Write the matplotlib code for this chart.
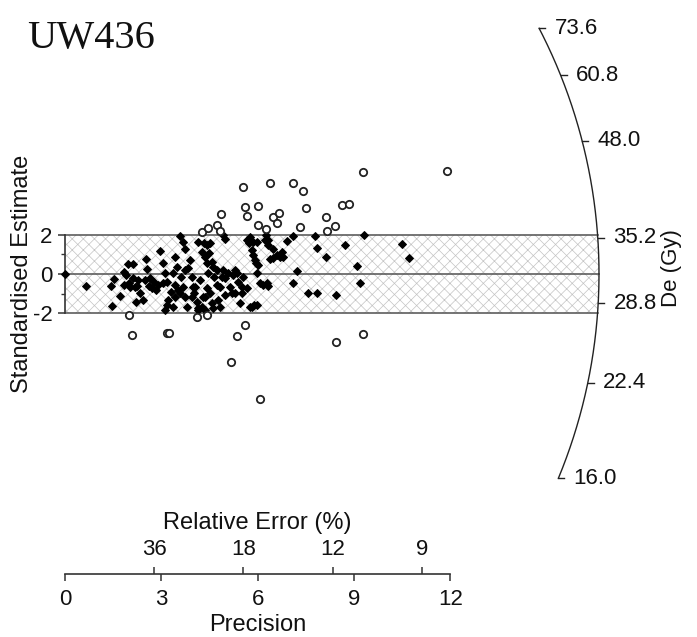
import numpy as np
import matplotlib.pyplot as plt

plt.rcParams['font.family'] = ['Liberation Sans', 'DejaVu Sans']
plt.rcParams['axes.unicode_minus'] = False
plt.rcParams['hatch.linewidth'] = 0.5

# points inside the +-2 band (filled) : precision, standardised estimate
prec_in = [0.00, 0.65, 1.43, 1.53, 1.45, 1.71, 1.84, 1.90, 1.97, 2.13,
           2.02, 2.13, 2.25, 2.21, 2.34, 2.52, 2.54, 2.61, 2.65, 2.77,
           2.83, 2.44, 2.96, 3.06, 3.12, 3.17, 3.12, 3.22, 3.29, 3.43,
           3.37, 3.43, 3.48, 3.58, 3.69, 3.74, 3.60, 3.69, 3.74, 3.84,
           3.89, 3.79, 3.95, 4.00, 4.02, 4.10, 4.15, 4.21, 4.26, 4.31,
           4.33, 4.41, 4.52, 4.36, 4.41, 4.50, 4.57, 4.62, 4.43, 4.46,
           4.52, 4.57, 4.62, 4.64, 4.73, 4.78, 4.83, 4.93, 4.98, 4.93,
           4.98, 5.09, 5.14, 5.19, 5.24, 5.35, 5.40, 5.45, 5.50, 5.55,
           5.66, 5.76, 5.74, 5.82, 5.87, 5.76, 5.89, 5.97, 5.87, 5.95,
           5.97, 6.07, 6.18, 6.33, 6.26, 6.33, 6.39, 6.47, 6.60, 6.70,
           6.75, 6.91, 7.09, 7.22, 7.11, 7.58, 7.84, 7.79, 7.84, 8.13,
           8.44, 8.72, 9.31, 9.09, 9.19, 10.49, 10.72,
           1.84, 2.00, 2.18, 2.28, 2.49, 2.70, 2.91, 3.06, 3.43, 3.58,
           3.53, 3.37, 3.17, 3.74,
           4.15, 4.26, 4.73, 4.88, 5.30, 4.83, 4.98, 5.30, 5.50, 4.36,
           4.15, 4.36, 3.95, 4.05,
           5.82, 5.66, 5.97, 5.92, 6.02, 6.28, 6.23, 6.33, 6.49, 6.80]
z_in = [0.00, -0.61, -0.61, -0.27, -1.63, -1.12, -0.56, -0.05, 0.51, 0.51,
        -0.65, -0.22, -0.61, -1.41, -0.99, 0.75, 0.24, -0.61, -0.22, -0.39,
        -0.82, -1.33, 1.19, 0.55, 0.04, -0.39, -1.84, -1.33, -0.90, -0.56,
        0.04, 0.88, 0.37, 1.94, 1.65, 1.26, -0.14, -0.65, -1.16, 0.29,
        0.71, -1.67, -0.14, -0.65, -0.99, -1.41, -1.75, -0.31, -1.67, -1.16,
        1.57, 1.48, 1.57, 0.88, 0.55, 1.06, 0.63, 0.37, -0.73, 0.04,
        -0.99, -1.50, -1.75, -0.14, -0.56, -1.33, -1.67, 1.99, 1.77, 0.20,
        -0.22, 0.04, -0.65, -0.99, -0.05, 0.04, -0.39, -1.50, -0.99, -0.14,
        -0.73, 1.90, 1.57, 1.22, 1.65, -1.67, -1.58, -1.58, 0.97, 0.55,
        0.04, -0.47, -0.56, -0.61, 1.99, 1.73, 0.75, 1.26, 0.97, 0.88,
        1.14, 1.70, 1.94, 0.17, -0.44, -0.95, -0.99, 1.94, 1.31, 0.88,
        -1.07, 1.48, 1.99, 0.42, -0.47, 1.53, 0.83,
        0.12, -0.47, -0.65, -0.31, -0.31, -0.73, -0.56, -0.47, -1.16, -0.99,
        -0.82, -1.67, -1.58, 0.20,
        1.65, 1.14, 0.20, -0.14, 0.20, -0.65, -1.07, -0.99, -0.65, -1.16,
        -1.84, -1.84, -1.16, -0.65,
        -1.67, 1.73, 1.65, 0.71, 0.46, -0.47, 1.73, 1.48, 0.80, 0.88]

# points outside the band (open circles)
prec_out = [2.00, 2.08, 3.17, 3.24, 4.12, 4.43, 4.26, 4.46, 4.73, 4.83,
            4.85, 5.54, 5.61, 5.66, 6.02, 6.02, 6.26, 6.39, 6.49, 6.60,
            6.68, 7.11, 7.42, 7.51, 7.32, 8.13, 8.17, 8.41, 8.62, 8.86,
            9.27, 11.91, 5.61, 5.35, 5.16, 6.07, 8.44, 9.27]
z_out = [-2.09, -3.11, -2.99, -2.99, -2.18, -2.09, 2.16, 2.33, 2.50, 2.21,
         3.06, 4.45, 3.43, 2.96, 3.47, 2.50, 2.28, 4.66, 2.89, 2.62,
         3.10, 4.66, 4.25, 3.35, 2.41, 2.89, 2.21, 2.46, 3.52, 3.56,
         5.19, 5.26, -2.60, -3.16, -4.47, -6.40, -3.45, -3.06]

de_ticks = [16.0, 22.4, 28.8, 35.2, 48.0, 60.8, 73.6]
de_central = 31.5
precision_ticks = [0, 3, 6, 9, 12]
rel_err_ticks = [36, 18, 12, 9]
z_ticks = [-2, 0, 2]

# layout (pixels)
W, H = 697, 637
ox, oy = 65, 274          # where precision 0 / z 0 sits
sx, sy = 32.1, 19.6       # px per unit
base_y = 574              # precision axis line
R = 534.0                 # arc radius in px

xlim = (-2.0, 19.0)
ylim = ((oy - base_y) / sy, oy / sy)

fig = plt.figure(figsize=(W / 100, H / 100), dpi=100)
ax = fig.add_axes([(ox + xlim[0] * sx) / W, (H - base_y) / H,
                   (xlim[1] - xlim[0]) * sx / W, base_y / H])
ax.set_xlim(xlim)
ax.set_ylim(ylim)


def de_angle(de):
    return np.arctan(np.log(np.asarray(de) / de_central) * sy / sx)


def arc_xy(theta, r=R):
    return r * np.cos(theta) / sx, r * np.sin(theta) / sy


# shaded +-2 band, closed by the arc
tb = np.arcsin(2 * sy / R)
bx, by = arc_xy(np.linspace(tb, -tb, 40))
ax.fill(np.r_[0, bx, 0], np.r_[2, by, -2], facecolor='white',
        edgecolor='#c4c4c4', hatch='xxx', lw=0, zorder=1)
for yv in [-2, 0, 2]:
    xe = np.sqrt(R ** 2 - (yv * sy) ** 2) / sx
    ax.plot([0, xe], [yv, yv], color='#505050', lw=1.1, zorder=2)

# De arc
th = np.linspace(de_angle(min(de_ticks)), de_angle(max(de_ticks)), 300)
ax.plot(*arc_xy(th), color='#222222', lw=1.0, zorder=2)
for d in de_ticks:
    x0, y0 = arc_xy(de_angle(d))
    ax.plot([x0, x0 + 6 / sx], [y0, y0], color='#222222', lw=1.0)
    ax.annotate(f'{d:.1f}', xy=(x0, y0), xytext=(11, 0),
                textcoords='offset points', ha='left', va='center',
                fontsize=16, color='#111111')
ax.text((671 - ox) / sx, (oy - 268) / sy, 'De (Gy)', rotation=90,
        ha='center', va='center', fontsize=16, color='#111111')

# data points
ax.plot(prec_in, z_in, 'D', ms=4.3, mfc='black', mec='black', mew=0.7,
        zorder=4, clip_on=False)
ax.plot(prec_out, z_out, 'o', ms=5.3, mfc='white', mec='#222222', mew=1.3,
        zorder=4)

# axes
ax.spines['top'].set_visible(False)
ax.spines['right'].set_visible(False)
ax.spines['left'].set_position(('data', 0))
ax.spines['left'].set_bounds(-2, 2)
ax.spines['bottom'].set_bounds(0, 12)
for s in ['left', 'bottom']:
    ax.spines[s].set_color('#333333')
    ax.spines[s].set_linewidth(1.2)
ax.set_xticks(precision_ticks)
ax.set_yticks(z_ticks)
ax.set_yticks([-1, 1], minor=True)
ax.tick_params(axis='both', which='major', labelsize=16, length=5,
               width=1.1, color='#333333', labelcolor='#111111')
ax.tick_params(axis='y', which='minor', length=3, width=1.0,
               color='#333333')
ax.tick_params(axis='x', pad=6)
ax.tick_params(axis='y', pad=4)

ax.set_ylabel('Standardised Estimate', fontsize=17, color='#111111')
ax.yaxis.set_label_coords(-1.0, 0, transform=ax.transData)
ax.set_xlabel('Precision', fontsize=17, color='#111111')
ax.xaxis.set_label_coords((6 - xlim[0]) / (xlim[1] - xlim[0]), -0.070)

# relative error scale above the precision line
sec = ax.secondary_xaxis('bottom', functions=(lambda v: v, lambda v: v))
sec.set_xticks(100 / np.array(rel_err_ticks),
               labels=[str(v) for v in rel_err_ticks])
sec.xaxis.set_ticks_position('top')
sec.xaxis.set_label_position('top')
sec.tick_params(axis='x', direction='out', length=5, width=1.1, pad=5,
                labelsize=16, color='#333333', labelcolor='#111111')
for sp in sec.spines.values():
    sp.set_visible(False)
sec.set_xlabel('Relative Error (%)', fontsize=17, color='#111111')
sec.xaxis.set_label_coords((6 - xlim[0]) / (xlim[1] - xlim[0]), 0.078,
                           transform=ax.transAxes)

fig.text(27 / W, 1 - 48 / H, 'UW436', family='Liberation Serif',
         fontsize=29, va='baseline', color='#111111')

fig.savefig('out.png', dpi=100, facecolor='white')
